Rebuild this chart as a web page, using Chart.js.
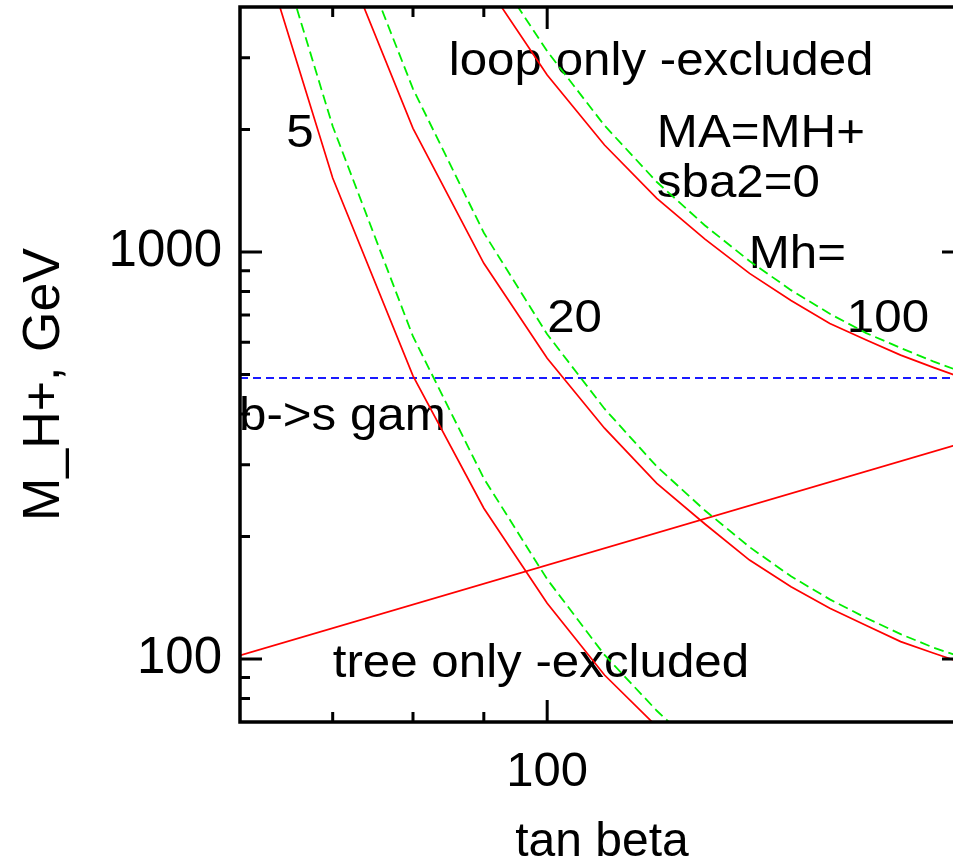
<!DOCTYPE html>
<html>
<head>
<meta charset="utf-8">
<script src="https://cdn.jsdelivr.net/npm/chart.js@4.4.1/dist/chart.umd.min.js"></script>
<style>
html,body{margin:0;padding:0;overflow:hidden;background:#fff;width:953px;height:867px;}
canvas{display:block;}
</style>
</head>
<body>
<canvas id="c" width="990" height="867" style="width:990px;height:867px"></canvas>
<script>
// ---- data (tan beta vs M_H+ [GeV]) ----
const mh5Tan   = [60, 70, 80, 90, 100, 110, 120, 130];
const mh5Red   = [8300, 1520, 496, 234.6, 137, 91.3, 68.2, 53.4];
const mh5Green = [11390, 2037, 620, 277.8, 157, 102.3, 74.6, 57.9];

const mh20Tan   = [70, 80, 90, 100, 110, 120, 130, 140, 150, 160, 170, 180, 190, 200];
const mh20Red   = [6180, 2013, 938, 548, 369, 270, 214.6, 175, 150.5, 133.3, 120.9, 110.3, 103.4, 97.5];
const mh20Green = [7980, 2518, 1115, 628, 412, 297, 231.7, 188.4, 159.6, 140.1, 126.1, 115.1, 106.7, 100.5];

const mh100Tan   = [90, 100, 110, 120, 130, 140, 150, 160, 170, 180, 190, 200];
const mh100Red   = [4645, 2722, 1832, 1355, 1076, 886, 760, 667, 607.9, 558, 520.7, 489];
const mh100Green = [5367, 3114, 2046, 1486, 1162, 950, 806, 705, 632, 581, 538.7, 505];

const treeTan   = [60, 200];
const treeLimit = [102, 340];
const bsgTan    = [60, 200];
const bsgLimit  = [490, 490];

// axis ticks
const xTicks   = [70, 80, 90, 100];
const xLabeled = [100];
const yTicks   = [80, 90, 100, 200, 300, 400, 500, 600, 700, 800, 900, 1000, 2000, 3000];
const yLabeled = [100, 1000];

const xTitle = 'tan beta';
const yTitle = 'M_H+, GeV';

// text labels placed in data coordinates
const labels = [
  {text: '5', x: 64.8, y: 1814},
  {text: 'loop only -excluded', x: 84.9, y: 2722},
  {text: 'MA=MH+', x: 120, y: 1814},
  {text: 'sba2=0', x: 120, y: 1365},
  {text: 'Mh=', x: 139.8, y: 912},
  {text: '20', x: 100, y: 637},
  {text: '100', x: 164.6, y: 637},
  {text: 'b->s gam', x: 59.9, y: 365},
  {text: 'tree only -excluded', x: 70, y: 90.5}
];

const FONT = '"Liberation Sans", Arial, sans-serif';
const pts = (xs, ys) => xs.map((x, i) => ({x: x, y: ys[i]}));

function ds(label, xs, ys, color, dash, width) {
  return {
    label: label, data: pts(xs, ys), showLine: true, pointRadius: 0,
    borderColor: color, backgroundColor: color, borderWidth: width || 1.7,
    borderDash: dash || [], fill: false, tension: 0, clip: 0
  };
}

const framePlugin = {
  id: 'frame',
  beforeDatasetsDraw(chart) {
    const ctx = chart.ctx, xs = chart.scales.x, ys = chart.scales.y, ca = chart.chartArea;
    ctx.save();
    ctx.fillStyle = '#000';
    ctx.font = '46.5px ' + FONT;
    ctx.textAlign = 'left';
    ctx.textBaseline = 'alphabetic';
    labels.forEach(l => {
      ctx.save();
      ctx.translate(xs.getPixelForValue(l.x), ys.getPixelForValue(l.y));
      ctx.scale(1.06, 1);
      ctx.fillText(l.text, 0, 0);
      ctx.restore();
    });
    // y axis title (rotated)
    ctx.save();
    ctx.font = '52px ' + FONT;
    ctx.textAlign = 'center';
    ctx.textBaseline = 'middle';
    ctx.translate(45, (ca.top + ca.bottom) / 2 + 20);
    ctx.rotate(-Math.PI / 2);
    ctx.fillText(yTitle, 0, 0);
    ctx.restore();
    ctx.restore();
  },
  afterDraw(chart) {
    const ctx = chart.ctx, ca = chart.chartArea, xs = chart.scales.x, ys = chart.scales.y;
    ctx.save();
    ctx.strokeStyle = '#000';
    ctx.lineWidth = 3;
    ctx.beginPath();
    xTicks.forEach(v => {
      const p = xs.getPixelForValue(v);
      const len = xLabeled.includes(v) ? 22 : 10;
      ctx.moveTo(p, ca.bottom); ctx.lineTo(p, ca.bottom - len);
      ctx.moveTo(p, ca.top); ctx.lineTo(p, ca.top + len);
    });
    yTicks.forEach(v => {
      const p = ys.getPixelForValue(v);
      const len = yLabeled.includes(v) ? 22 : 10;
      ctx.moveTo(ca.left, p); ctx.lineTo(ca.left + len, p);
      ctx.moveTo(ca.right, p); ctx.lineTo(ca.right - len, p);
    });
    ctx.stroke();
    ctx.lineWidth = 3.5;
    ctx.strokeRect(ca.left, ca.top, ca.right - ca.left, ca.bottom - ca.top);
    ctx.restore();
  }
};

new Chart(document.getElementById('c'), {
  type: 'scatter',
  data: {
    datasets: [
      ds('Mh=5', mh5Tan, mh5Red, '#ff0000'),
      ds('Mh=5 (alt)', mh5Tan, mh5Green, '#00ee00', [10, 5], 1.8),
      ds('Mh=20', mh20Tan, mh20Red, '#ff0000'),
      ds('Mh=20 (alt)', mh20Tan, mh20Green, '#00ee00', [10, 5], 1.8),
      ds('Mh=100', mh100Tan, mh100Red, '#ff0000'),
      ds('Mh=100 (alt)', mh100Tan, mh100Green, '#00ee00', [10, 5], 1.8),
      ds('b->s gam', bsgTan, bsgLimit, '#1a1aff', [8, 5], 2),
      ds('tree', treeTan, treeLimit, '#ff0000')
    ]
  },
  options: {
    responsive: false,
    animation: false,
    devicePixelRatio: 1,
    layout: {padding: {top: 7, right: 26, left: 0, bottom: 0}},
    plugins: {legend: {display: false}, tooltip: {enabled: false}, title: {display: false}},
    scales: {
      x: {
        type: 'logarithmic', min: 60, max: 200,
        grid: {display: false, drawTicks: false}, border: {display: false},
        afterBuildTicks: s => { s.ticks = xTicks.map(v => ({value: v})); },
        afterFit: s => { s.height = 145; s.paddingLeft = 0; s.paddingRight = 0; },
        ticks: {
          autoSkip: false, maxRotation: 0, padding: 21, color: '#000',
          font: {family: FONT, size: 49, lineHeight: 1.2},
          callback: v => xLabeled.includes(v) ? String(v) : ''
        },
        title: {display: true, text: xTitle, color: '#000',
                font: {family: FONT, size: 48, lineHeight: 1}, padding: 0}
      },
      y: {
        type: 'logarithmic', min: 70, max: 4000,
        grid: {display: false, drawTicks: false}, border: {display: false},
        afterBuildTicks: s => { s.ticks = yTicks.map(v => ({value: v})); },
        afterFit: s => { s.width = 240; s.paddingTop = 0; s.paddingBottom = 0; },
        ticks: {
          autoSkip: false, padding: 18, color: '#000',
          font: {family: FONT, size: 51, lineHeight: 1.2},
          callback: v => yLabeled.includes(v) ? String(v) : ''
        },
        title: {display: false}
      }
    }
  },
  plugins: [framePlugin]
});
</script>
</body>
</html>
